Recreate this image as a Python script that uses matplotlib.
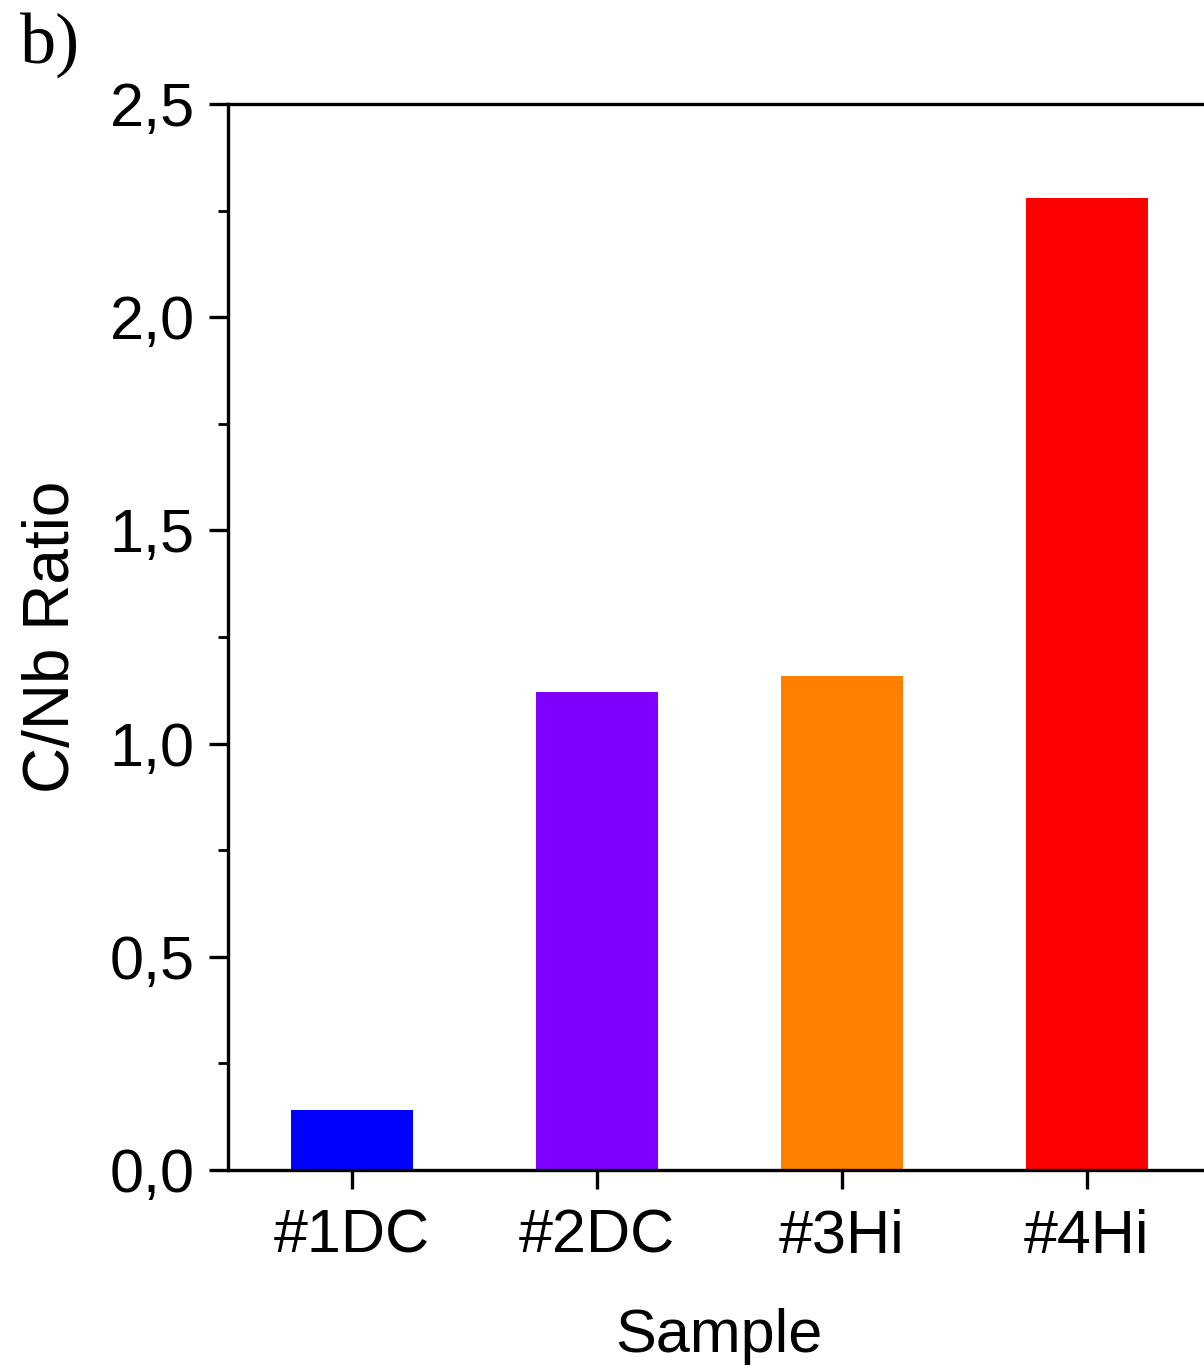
import numpy as np
import matplotlib.pyplot as plt
from matplotlib.ticker import MultipleLocator, FuncFormatter

# -----------------------
# Data
# -----------------------
samples = ["#1DC", "#2DC", "#3Hi", "#4Hi"]
cnb_ratio = [0.141, 1.121, 1.159, 2.28]
bar_colors = ["#0000FF", "#7F00FF", "#FF8000", "#FF0000"]

plt.rcParams["font.family"] = ["Liberation Sans", "DejaVu Sans"]

W, H = 1204, 1366
fig = plt.figure(figsize=(W / 100, H / 100), dpi=100)
ax = fig.add_axes([228 / W, 1 - 1170 / H, (1209.5 - 228) / W, (1170 - 104) / H])

x = np.arange(1, len(samples) + 1)
ax.bar(x, cnb_ratio, width=0.5, color=bar_colors, edgecolor="none", zorder=1)

ax.set_xlim(0.494, 4.5)
ax.set_ylim(0, 2.5)

ax.set_xticks(x)
ax.set_xticklabels(samples)
ax.yaxis.set_major_locator(MultipleLocator(0.5))
ax.yaxis.set_minor_locator(MultipleLocator(0.25))
ax.yaxis.set_major_formatter(FuncFormatter(lambda v, p: f"{v:.1f}".replace(".", ",")))

for sp in ax.spines.values():
    sp.set_linewidth(2.4)
    sp.set_zorder(3)
ax.spines["right"].set_visible(False)

ax.tick_params(axis="both", which="major", direction="out", length=14, width=2.4,
               labelsize=44)
ax.tick_params(axis="y", which="major", pad=10)
ax.tick_params(axis="x", which="major", pad=14)
ax.tick_params(axis="y", which="minor", direction="out", length=7, width=2.0)
ax.tick_params(axis="x", which="minor", bottom=False)

ax.set_xlabel("Sample", fontsize=44, labelpad=30)
ax.set_ylabel("C/Nb Ratio", fontsize=46, labelpad=20)

fig.text(20 / W, 1 - 45 / H, "b)", fontsize=52, family=["Liberation Serif"],
         va="center", ha="left")

fig.savefig("out.png", dpi=100)
